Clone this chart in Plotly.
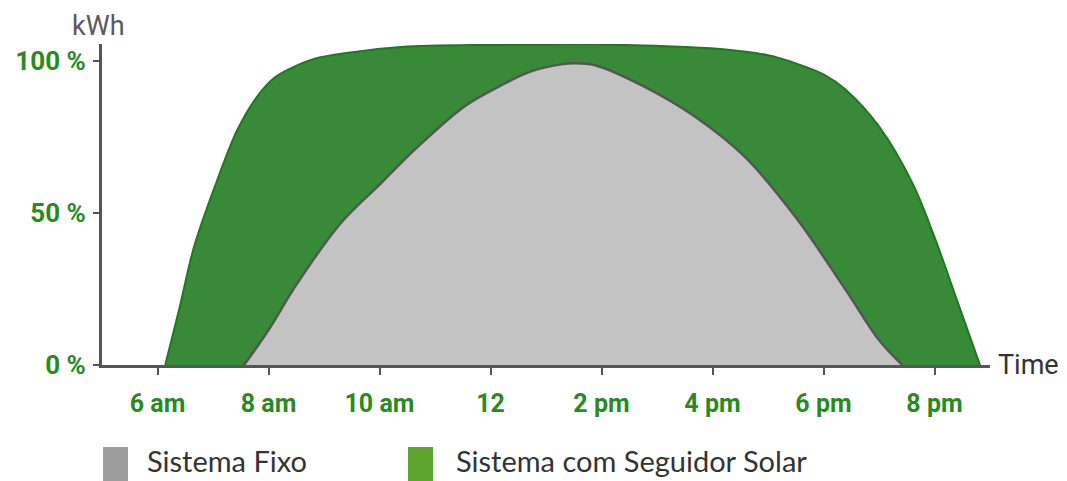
import plotly.graph_objects as go

# ---- data (hours of day, % of peak energy) ----
tracker_hours = [6.14, 6.4, 6.66, 7.08, 7.44, 7.80, 8.1, 8.4, 8.82, 9.48, 10.39, 12.0, 14.0, 15.5,
                 16.28, 17.0, 17.49, 18.0, 18.4, 19.0, 19.6, 20.0, 20.43, 20.82]
tracker_pct   = [0, 19, 38.9, 60.9, 77.3, 88.3, 94.3, 97.5, 100.6, 102.7, 104.5, 105.2, 105.3, 104.5,
                 103.6, 101.8, 99.2, 95.5, 90.5, 78.4, 59.8, 42, 20, 0]

fixed_hours = [7.56, 8.0, 8.52, 9.30, 10.03, 10.63, 11.53, 12.2, 12.73, 13.27, 13.5, 13.87,
               14.77, 15.68, 16.58, 17.49, 18.4, 19.0, 19.42]
fixed_pct   = [0, 11.5, 26.9, 46.6, 59.8, 70.7, 85, 92, 96.5, 98.8, 99.2, 98.6,
               91.5, 81.7, 68.5, 48.8, 24.7, 8.2, 0]

x_tick_vals = [6, 8, 10, 12, 14, 16, 18, 20]
x_tick_text = ["6 am", "8 am", "10 am", "12", "2 pm", "4 pm", "6 pm", "8 pm"]
y_tick_vals = [0, 50, 100]
y_tick_text = ["0 %", "50 %", "100 %"]

legend_names = ["Sistema Fixo", "Sistema com Seguidor Solar"]

GREEN_FILL = "#388a38"
GREEN_LINE = "#1d7a1d"
GRAY_FILL = "#c3c3c3"
GRAY_LINE = "#555555"
TICK_GREEN = "#2a8a22"

fig = go.Figure()
fig.add_trace(go.Scatter(
    x=tracker_hours, y=tracker_pct, mode="lines", fill="tozeroy",
    fillcolor=GREEN_FILL, line=dict(color=GREEN_LINE, width=2, shape="spline", smoothing=1.0),
    name=legend_names[1], showlegend=False, hoverinfo="skip"))
fig.add_trace(go.Scatter(
    x=fixed_hours, y=fixed_pct, mode="lines", fill="tozeroy",
    fillcolor=GRAY_FILL, line=dict(color=GRAY_LINE, width=2.5, shape="spline", smoothing=1.0),
    name=legend_names[0], showlegend=False, hoverinfo="skip"))

# page body has an 8px default margin; work in page pixels and offset
OFF = 8
W, H = 1067 - OFF, 481 - OFF
PL, PR, PT, PB = 102, 990, 44, 365  # plot area in page pixels
L, R, T, B = PL - OFF, W - (PR - OFF), PT - OFF, H - (PB - OFF)
pw, ph = PR - PL, PB - PT

def px(xp):
    return (xp - PL) / pw

def py(yp):
    return (PB - yp) / ph

fig.update_layout(
    width=W, height=H,
    margin=dict(l=L, r=R, t=T, b=B, autoexpand=False),
    paper_bgcolor="white", plot_bgcolor="white",
    xaxis=dict(range=[5, 21], showgrid=False, zeroline=False, automargin=False,
               showline=True, linecolor="#555555", linewidth=3,
               tickmode="array", tickvals=x_tick_vals, ticktext=x_tick_text,
               ticks="outside", ticklen=7, tickwidth=2, tickcolor="#555555",
               ticklabelstandoff=7,
               tickfont=dict(family="Roboto", size=25, color=TICK_GREEN, weight="bold")),
    yaxis=dict(range=[0, 105.5], showgrid=False, zeroline=False, automargin=False,
               showline=True, linecolor="#555555", linewidth=3,
               tickmode="array", tickvals=y_tick_vals, ticktext=y_tick_text,
               ticks="outside", ticklen=6, tickwidth=2, tickcolor="#555555",
               ticklabelstandoff=2,
               tickfont=dict(family="Roboto", size=26, color=TICK_GREEN, weight="bold")),
    showlegend=False,
)

annotations = [
    dict(text="kWh", xref="paper", yref="paper", x=px(98), y=py(26), xanchor="center", yanchor="middle",
         showarrow=False, font=dict(family="Roboto", size=27, color="#5a5a5a")),
    dict(text="Time", xref="paper", yref="paper", x=px(996), y=py(365), xanchor="left", yanchor="middle",
         showarrow=False, font=dict(family="Roboto", size=27, color="#333333")),
    dict(text=legend_names[0], xref="paper", yref="paper", x=px(145), y=py(460), xanchor="left", yanchor="middle",
         showarrow=False, font=dict(family="Lato", size=29, color="#333333")),
    dict(text=legend_names[1], xref="paper", yref="paper", x=px(454), y=py(460), xanchor="left", yanchor="middle",
         showarrow=False, font=dict(family="Lato", size=29, color="#333333")),
]
shapes = [
    dict(type="rect", xref="paper", yref="paper", x0=px(103), x1=px(128), y0=py(447), y1=py(485),
         fillcolor="#9e9e9e", line=dict(width=0)),
    dict(type="rect", xref="paper", yref="paper", x0=px(408), x1=px(433), y0=py(447), y1=py(485),
         fillcolor="#5ea52e", line=dict(width=0)),
]
fig.update_layout(annotations=annotations, shapes=shapes)

fig.write_html("out.html")
